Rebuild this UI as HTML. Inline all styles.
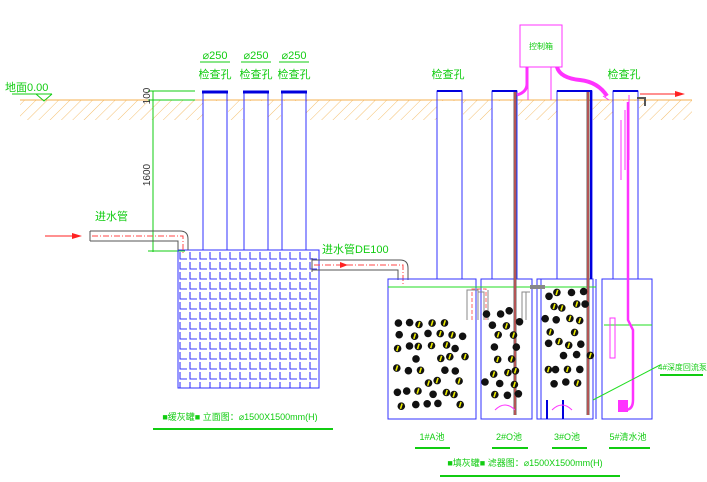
<!DOCTYPE html>
<html><head><meta charset="utf-8"><style>
html,body{margin:0;padding:0;background:#fff;}
svg{display:block;}
text{font-family:"Liberation Sans","Noto Sans CJK SC",sans-serif;}
</style></head><body>
<svg id="s" width="707" height="482" viewBox="0 0 707 482" xmlns="http://www.w3.org/2000/svg">
<defs>
<pattern id="hatch" width="8" height="8" patternUnits="userSpaceOnUse" patternTransform="rotate(45)">
<line x1="0" y1="0" x2="0" y2="8" stroke="#f5c070" stroke-width="1"/>
</pattern>
<pattern id="grid" x="178" y="250" width="10" height="10" patternUnits="userSpaceOnUse">
<path d="M2 2 V9 H9" fill="none" stroke="#3a3aff" stroke-width="1.1"/>
</pattern>
</defs>
<rect x="20" y="100" width="672" height="20" fill="url(#hatch)"/>
<line x1="20" y1="100" x2="692" y2="100" stroke="#f5b050" stroke-width="1"/>
<g fill="#fff">
<rect x="203" y="101" width="25" height="20"/><rect x="243" y="101" width="25" height="20"/><rect x="281" y="101" width="25" height="20"/>
<rect x="437" y="101" width="26" height="20"/><rect x="492" y="101" width="26" height="20"/><rect x="557" y="101" width="35" height="20"/><rect x="613" y="101" width="26" height="20"/>
</g>
<text x="5" y="91" font-size="11" fill="#1c1">地面0.00</text>
<line x1="12" y1="94" x2="52" y2="94" stroke="#1c1"/>
<path d="M36 94 L44 101 L52 94" fill="none" stroke="#1c1"/>
<line x1="153" y1="91" x2="153" y2="252" stroke="#1c1"/>
<line x1="148" y1="91" x2="195" y2="91" stroke="#1c1"/>
<line x1="148" y1="100" x2="195" y2="100" stroke="#1c1"/>
<line x1="148" y1="251" x2="185" y2="251" stroke="#1c1"/>
<text transform="translate(150,96) rotate(-90)" font-size="10" fill="#333" text-anchor="middle">100</text>
<text transform="translate(150,175) rotate(-90)" font-size="10" fill="#333" text-anchor="middle">1600</text>
<g stroke="#3030ff" fill="none">
<rect x="203" y="92" width="24" height="158"/><rect x="244" y="92" width="24" height="158"/><rect x="282" y="92" width="24" height="158"/>
</g>
<g stroke="#0000dd" stroke-width="3"><line x1="202" y1="92" x2="228" y2="92"/><line x1="243" y1="92" x2="269" y2="92"/><line x1="281" y1="92" x2="307" y2="92"/></g>
<g font-size="11" fill="#1c1" text-anchor="middle">
<text x="215" y="59">⌀250</text><text x="256" y="59">⌀250</text><text x="294" y="59">⌀250</text>
<text x="215" y="78">检查孔</text><text x="256" y="78">检查孔</text><text x="294" y="78">检查孔</text>
<text x="448" y="78">检查孔</text><text x="624" y="78">检查孔</text>
</g>
<g stroke="#1c1"><line x1="200" y1="62" x2="230" y2="62"/><line x1="241" y1="62" x2="271" y2="62"/><line x1="279" y1="62" x2="309" y2="62"/></g>
<rect x="178" y="250" width="141" height="138" fill="url(#grid)" stroke="#3030ff"/>
<path d="M90 231 H180 Q188 231 188 239 V250 M90 241 H178 V250 M90 231 V241" fill="none" stroke="#555"/>
<path d="M92 236 H183 V255" fill="none" stroke="#f44" stroke-dasharray="6,2,1,2"/>
<line x1="45" y1="236" x2="80" y2="236" stroke="#f22"/><path d="M72 233 L82 236 L72 239Z" fill="#f22"/>
<text x="95" y="220" font-size="11" fill="#1c1">进水管</text>
<path d="M312 260 H400 Q408 260 408 268 V280 M312 270 H398 V280 M312 258 V272" fill="none" stroke="#555"/>
<path d="M314 265 H403 V285" fill="none" stroke="#f44" stroke-dasharray="6,2,1,2"/>
<path d="M340 262 L348 265 L340 268Z" fill="#f22"/>
<text x="322" y="253" font-size="11" fill="#1c1">进水管DE100</text>
<g stroke="#3030ff" fill="none">
<rect x="388" y="279" width="88" height="140"/>
<rect x="481" y="279" width="51" height="140"/>
<rect x="537" y="279" width="56" height="140"/><line x1="541" y1="279" x2="541" y2="419"/><line x1="596" y1="279" x2="596" y2="419"/>
<rect x="602" y="279" width="50" height="140"/>
<rect x="437" y="91" width="25" height="188"/><rect x="492" y="91" width="25" height="188"/>
<rect x="557" y="91" width="35" height="188"/><rect x="613" y="91" width="25" height="188"/>
</g>
<g stroke="#0000dd" stroke-width="2"><line x1="437" y1="91" x2="462" y2="91"/><line x1="492" y1="91" x2="517" y2="91"/><line x1="557" y1="91" x2="592" y2="91"/><line x1="613" y1="91" x2="638" y2="91"/>
<line x1="591" y1="91" x2="591" y2="279"/><line x1="547" y1="400" x2="547" y2="419"/><line x1="563" y1="400" x2="563" y2="419"/></g>
<g stroke="#2d2"><line x1="388" y1="287" x2="596" y2="287"/><line x1="604" y1="325" x2="652" y2="325"/></g>
<g fill="none" stroke="#666" stroke-width="3"><line x1="515" y1="92" x2="515" y2="415"/><line x1="588" y1="92" x2="588" y2="415"/></g>
<g fill="none" stroke="#f44" stroke-width="1"><line x1="515" y1="92" x2="515" y2="415"/><line x1="588" y1="92" x2="588" y2="415"/></g>
<path d="M467 320 V290 H478 V320 M488 320 V290 M484 320 V292 H478" fill="none" stroke="#888"/>
<path d="M472 320 V289 H486 V322" fill="none" stroke="#f66" stroke-dasharray="4,2"/>
<path d="M522 320 V292 H530 M526 320 V292" fill="none" stroke="#888"/>
<path d="M530 287 H545" stroke="#888" stroke-width="4"/>
<path d="M495 410 Q505 400 515 410 M552 410 Q562 400 572 410" fill="none" stroke="#f3f"/>
<rect x="520" y="25" width="42" height="42" fill="#fff" stroke="#f3f"/>
<text x="541" y="49" font-size="8" fill="#1c1" text-anchor="middle">控制箱</text>
<g stroke="#f3f"><line x1="528" y1="67" x2="528" y2="100"/><line x1="551" y1="67" x2="551" y2="100"/></g>
<path d="M527 67 V84 Q527 92 517 95" fill="none" stroke="#f3f" stroke-width="3"/>
<path d="M557 67 Q560 78 580 80 Q598 82 607 96" fill="none" stroke="#f3f" stroke-width="4"/>
<path d="M603 96 L609 100 M629 95 V160 M625 110 L625 170 M621 120 V180" fill="none" stroke="#f3f"/>
<path d="M628 102 V320 L633 330 V400 Q633 410 625 410" fill="none" stroke="#f3f" stroke-width="2.5"/>
<rect x="618" y="400" width="10" height="12" fill="#f3f"/>
<rect x="610" y="318" width="5" height="40" fill="none" stroke="#f3f"/>
<path d="M637 98 H645 V106" fill="none" stroke="#555" stroke-width="2"/>
<line x1="640" y1="94" x2="683" y2="94" stroke="#f22"/><path d="M675 91 L685 94 L675 97Z" fill="#f22"/>
<line x1="593" y1="400" x2="660" y2="365" stroke="#2d2"/>
<text x="658" y="370" font-size="8" fill="#1c1">4#深度回流泵</text>
<line x1="660" y1="375" x2="703" y2="375" stroke="#1c1" stroke-width="2"/>
<g id="balls"></g>
<g font-size="9" fill="#1c1" text-anchor="middle">
<text x="432" y="440">1#A池</text><text x="509" y="440">2#O池</text><text x="567" y="440">3#O池</text><text x="628" y="440">5#清水池</text>
<text x="525" y="466">■填灰罐■ 滤器图：⌀1500X1500mm(H)</text>
<text x="240" y="420">■缓灰罐■ 立面图：⌀1500X1500mm(H)</text>
</g>
<g stroke="#1c1" stroke-width="2"><line x1="415" y1="448" x2="450" y2="448"/><line x1="492" y1="448" x2="528" y2="448"/><line x1="552" y1="448" x2="587" y2="448"/><line x1="609" y1="448" x2="650" y2="448"/>
<line x1="440" y1="476" x2="620" y2="476"/><line x1="153" y1="429" x2="333" y2="429"/></g>
</svg>
<script>
(function(){var s=11,g=document.getElementById('balls'),h='';function r(){s=(s*9301+49297)%233280;return s/233280;}
function fill(x0,y0,cols,rows,dx,dy){for(var j=0;j<rows;j++)for(var i=0;i<cols;i++){if(r()<0.15)continue;var x=x0+i*dx+(r()-0.5)*dx*0.5+(j%2?dx/2:0),y=y0+j*dy+(r()-0.5)*dy*0.4;h+='<circle cx="'+x.toFixed(1)+'" cy="'+y.toFixed(1)+'" r="3.8" fill="#111"/>';if(r()>0.45)h+='<path d="M'+(x-0.8).toFixed(1)+' '+(y+2.6).toFixed(1)+' l1.6 -5.2" stroke="#ee0" stroke-width="1.6"/>';}}
fill(396,324,6,8,12,11.5);fill(488,312,3,8,12,12);fill(546,294,4,8,12,12.5);g.innerHTML=h;})();
</script>
</body></html>
